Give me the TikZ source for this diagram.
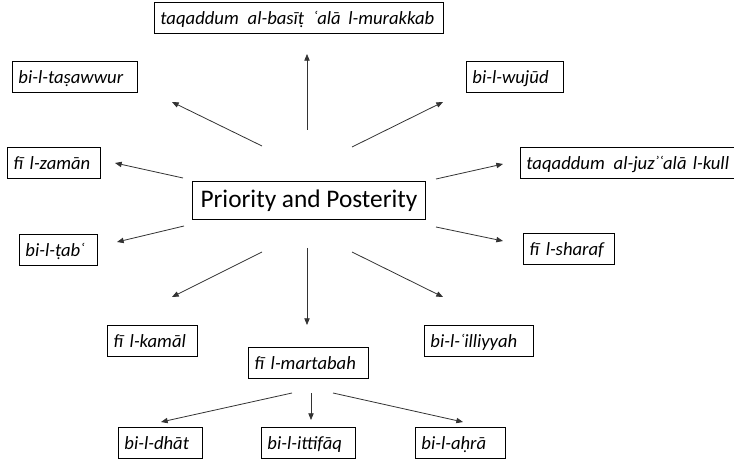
\documentclass[tikz,border=0pt]{standalone}
\usepackage{fontspec}
\setmainfont{Carlito}
\usetikzlibrary{arrows.meta}

\tikzset{every picture/.style={line width=0.75pt}}
\tikzset{
  lbl/.style={draw, line width=0.7pt, anchor=north west, inner xsep=4.5pt, inner ysep=1pt,
    minimum height=23.25pt, text width=#1, align=left, text height=12pt, text depth=2.5pt,
    font=\itshape\fontsize{14}{16}\selectfont},
  hub/.style={draw, line width=0.7pt, anchor=north west, inner sep=1pt, minimum width=174.75pt,
    minimum height=28.5pt, text height=13pt, text depth=3pt, font=\fontsize{19}{22}\selectfont},
  spoke/.style={draw=black!80, line width=0.6pt, -{Triangle[length=5pt,width=4pt]}}
}

\begin{document}
\begin{tikzpicture}[x=0.75pt,y=0.75pt,yscale=-1]
	\useasboundingbox (0,0) rectangle (734,459);

	% Draw boxes
	\node[hub] (prio) at (192,181) {Priority and Posterity};
	\node[lbl=207.75pt] (basit) at (154,2) {taqaddum\hspace{2pt} al-basīṭ\hspace{2pt} ʿalā\hspace{1pt} l-murakkab};
	\node[lbl=84.75pt] (tasawwur) at (12,61) {bi-l-taṣawwur};
	\node[lbl=63.75pt] (wujud) at (466,61) {bi-l-wujūd};
	\node[lbl=60.75pt] (zaman) at (7,147) {fī l-zamān};
	\node[lbl=163.5pt] (juz) at (520,147) {taqaddum\hspace{2pt} al-juzʾʿalā l-kull};
	\node[lbl=49.5pt] (tab) at (19,234) {bi-l-ṭabʿ};
	\node[lbl=59.25pt] (sharaf) at (523,233) {fī l-sharaf};
	\node[lbl=58.5pt] (kamal) at (107,325) {fī l-kamāl};
	\node[lbl=81pt] (martabah) at (248,347) {fī l-martabah};
	\node[lbl=72.75pt] (illiyyah) at (424,325) {bi-l-ʿilliyyah};
	\node[lbl=54pt] (dhat) at (118,427) {bi-l-dhāt};
	\node[lbl=61.5pt] (ittifaq) at (261,427) {bi-l-ittifāq};
	\node[lbl=58.5pt] (ahra) at (415,427) {bi-l-aḥrā};

	% Free ends of the spokes
	\coordinate (s-basit) at (307,130);    \coordinate (t-basit) at (307,54);
	\coordinate (s-tasawwur) at (262,146); \coordinate (t-tasawwur) at (172,102);
	\coordinate (s-wujud) at (352,147);    \coordinate (t-wujud) at (443,102);
	\coordinate (s-zaman) at (183,178);    \coordinate (t-zaman) at (115,163);
	\coordinate (s-juz) at (436,179);      \coordinate (t-juz) at (503,164);
	\coordinate (s-tab) at (184,226);      \coordinate (t-tab) at (117,242);
	\coordinate (s-sharaf) at (436,227);   \coordinate (t-sharaf) at (503,241);
	\coordinate (s-kamal) at (262,252);    \coordinate (t-kamal) at (172,297);
	\coordinate (s-martabah) at (307,248); \coordinate (t-martabah) at (307,325);
	\coordinate (s-illiyyah) at (352,252); \coordinate (t-illiyyah) at (443,297);
	\coordinate (s-dhat) at (292,393);     \coordinate (t-dhat) at (161,422);
	\coordinate (s-ittifaq) at (311,393);  \coordinate (t-ittifaq) at (311,420);
	\coordinate (s-ahra) at (333,393);     \coordinate (t-ahra) at (463,422);

	% Draw spokes round the centre
	\draw[spoke] (s-basit) -- (t-basit);
	\draw[spoke] (s-tasawwur) -- (t-tasawwur);
	\draw[spoke] (s-wujud) -- (t-wujud);
	\draw[spoke] (s-zaman) -- (t-zaman);
	\draw[spoke] (s-juz) -- (t-juz);
	\draw[spoke] (s-tab) -- (t-tab);
	\draw[spoke] (s-sharaf) -- (t-sharaf);
	\draw[spoke] (s-kamal) -- (t-kamal);
	\draw[spoke] (s-martabah) -- (t-martabah);
	\draw[spoke] (s-illiyyah) -- (t-illiyyah);

	% Draw spokes below fi l-martabah
	\draw[spoke] (s-dhat) -- (t-dhat);
	\draw[spoke] (s-ittifaq) -- (t-ittifaq);
	\draw[spoke] (s-ahra) -- (t-ahra);
\end{tikzpicture}
\end{document}
